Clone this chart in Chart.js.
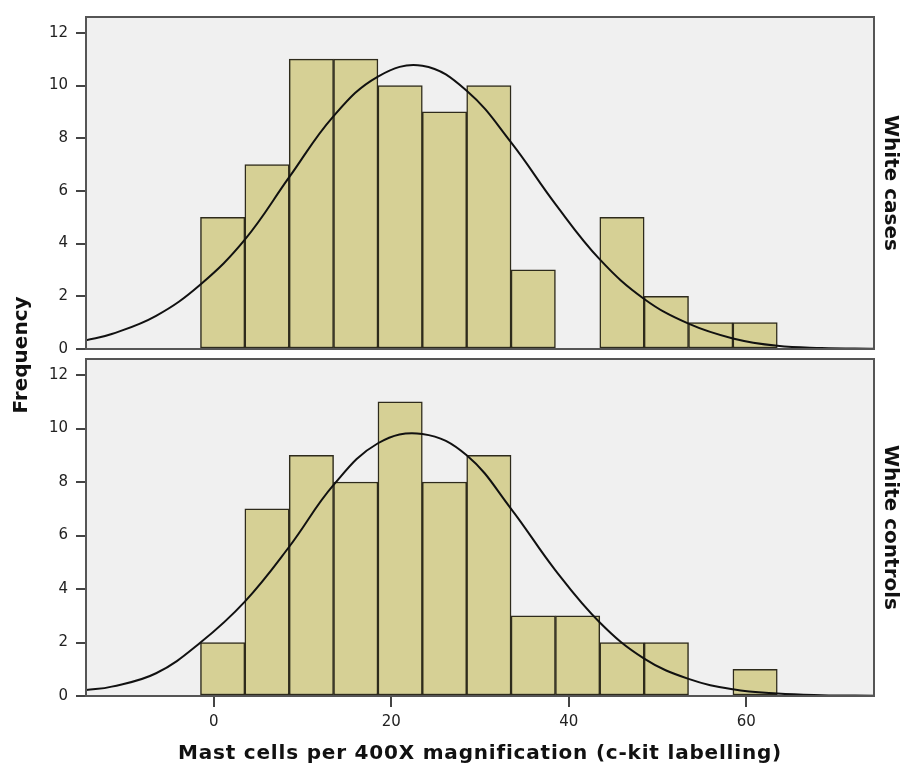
<!DOCTYPE html>
<html><head><meta charset="utf-8">
<script src="https://cdn.jsdelivr.net/npm/chart.js@4/dist/chart.umd.min.js"></script>
<style>
html,body{margin:0;padding:0;background:#fff;}
#wrap{position:relative;width:902px;height:766px;overflow:hidden;}
#wrap canvas{position:absolute;left:0;top:0;}
</style></head><body>
<div id="wrap"><canvas id="cBottom" width="902" height="766"></canvas><canvas id="cTop" width="902" height="766"></canvas></div>
<script>
// ---- data ----
const binCenters = [1, 6, 11, 16, 21, 26, 31, 36, 41, 46, 51, 56, 61];
const casesFreq = [5, 7, 11, 11, 10, 9, 10, 3, 0, 5, 2, 1, 1];
const controlsFreq = [2, 7, 9, 8, 11, 8, 9, 3, 3, 2, 2, 0, 1];
const curveX = [-14.4, -11.5, -6.5, -1.5, 3.5, 8.5, 13.5, 18.5, 23.5, 28.5, 33.5, 38.5, 43.5, 48.5, 53.5, 58.5, 63.5, 68.5, 74.4];
const casesCurve = [0.33, 0.57, 1.26, 2.45, 4.15, 6.52, 8.84, 10.34, 10.75, 9.8, 7.84, 5.5, 3.4, 1.9, 0.96, 0.4, 0.12, 0.04, 0.01];
const controlsCurve = [0.22, 0.35, 0.85, 2.0, 3.53, 5.58, 7.89, 9.45, 9.8, 9.0, 7.0, 4.7, 2.75, 1.4, 0.64, 0.25, 0.09, 0.03, 0.01];
const xTicks = [0, 20, 40, 60];
const yTicks = [0, 2, 4, 6, 8, 10, 12];
const panelLabels = ['White cases', 'White controls'];
const yTitle = 'Frequency';
const xTitle = 'Mast cells per 400X magnification (c-kit labelling)';

const FONT = "'DejaVu Sans', Verdana, sans-serif";
const AXIS_COL = '#444';

const panelPlugin = {
  id: 'panel',
  beforeDraw(chart) {
    const {ctx, chartArea: a} = chart;
    ctx.save();
    ctx.fillStyle = '#f0f0f0';
    ctx.fillRect(a.left, a.top, a.right - a.left, a.bottom - a.top);
    ctx.restore();
  },
  afterDraw(chart) {
    const {ctx, chartArea: a} = chart;
    ctx.save();
    ctx.strokeStyle = '#555';
    ctx.lineWidth = 2;
    ctx.strokeRect(a.left, a.top, a.right - a.left, a.bottom - a.top);
    ctx.restore();
    if (chart.options.plugins.panel && chart.options.plugins.panel.titles) {
      ctx.save();
      ctx.font = "bold 20px " + FONT;
      ctx.fillStyle = '#111';
      ctx.textAlign = 'center';
      ctx.textBaseline = 'middle';
      ctx.letterSpacing = '0.8px';
      ctx.fillText(xTitle, (a.left + a.right) / 2, 754);
      ctx.letterSpacing = '0px';
      ctx.translate(22, 355);
      ctx.rotate(-Math.PI / 2);
      ctx.fillText(yTitle, 0, 0);
      ctx.restore();
    }
  }
};

function makeChart(id, freq, curve, label, isBottom) {
  const ctx = document.getElementById(id);
  return new Chart(ctx, {
    type: 'bar',
    data: {
      datasets: [
        {
          type: 'line',
          data: curveX.map((x, i) => ({x: x, y: curve[i]})),
          borderColor: '#111',
          borderWidth: 2,
          pointRadius: 0,
          fill: false,
          tension: 0.4,
          order: 0
        },
        {
          type: 'bar',
          data: binCenters.map((x, i) => ({x: x, y: freq[i]})),
          backgroundColor: '#d6d095',
          borderColor: '#2e2b1c',
          borderWidth: 1.5,
          borderSkipped: false,
          barPercentage: 1,
          categoryPercentage: 1,
          order: 1
        }
      ]
    },
    options: {
      responsive: false,
      animation: false,
      events: [],
      layout: { padding: isBottom ? {top: 359, bottom: 0, left: 0, right: 0} : {top: 13, bottom: 417, left: 0, right: 0} },
      plugins: { legend: {display: false}, tooltip: {enabled: false}, panel: {titles: isBottom} },
      scales: {
        x: {
          type: 'linear',
          min: -14.4, max: 74.4,
          offset: false,
          display: isBottom,
          afterBuildTicks: s => { s.ticks = xTicks.map(v => ({value: v})); },
          afterFit: s => { if (isBottom) s.height = 70; },
          grid: {offset: false, drawOnChartArea: false, drawTicks: true, tickLength: 11, color: AXIS_COL, lineWidth: 2},
          border: {display: true, color: AXIS_COL, width: 2},
          ticks: {font: {family: FONT, size: 15}, color: '#222', padding: 6, maxRotation: 0},
          title: {display: false}
        },
        y: {
          type: 'linear',
          position: 'left',
          min: 0, max: 12.6,
          afterBuildTicks: s => { s.ticks = yTicks.map(v => ({value: v})); },
          afterFit: s => { s.width = 86; },
          grid: {drawOnChartArea: false, drawTicks: true, tickLength: 10, color: AXIS_COL, lineWidth: 2},
          border: {display: true, color: AXIS_COL, width: 2},
          ticks: {font: {family: FONT, size: 15}, color: '#222', padding: 8}
        },
        yr: {
          type: 'linear',
          position: 'right',
          min: 0, max: 12.6,
          display: true,
          afterFit: s => { s.width = 28; },
          grid: {display: false, drawTicks: false},
          border: {display: false},
          ticks: {display: false},
          title: {display: true, text: label, font: {family: FONT, size: 20, weight: 'bold'}, color: '#111', padding: {top: 0, bottom: 0}}
        }
      }
    },
    plugins: [panelPlugin]
  });
}

makeChart('cTop', casesFreq, casesCurve, panelLabels[0], false);
makeChart('cBottom', controlsFreq, controlsCurve, panelLabels[1], true);
</script>
</body></html>
